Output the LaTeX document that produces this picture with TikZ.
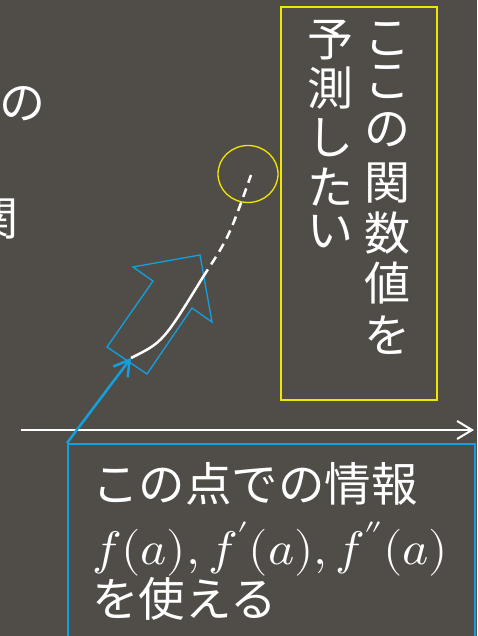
\documentclass[tikz,border=0pt]{standalone}
\usepackage{fontspec}
\usepackage{unicode-math}
\newfontfamily\jp{Noto Sans CJK JP}
\usetikzlibrary{arrows.meta,shapes.geometric}
\definecolor{bg}{RGB}{80,77,73}
\definecolor{ylw}{RGB}{240,230,0}
\definecolor{blu}{RGB}{18,160,222}
\tikzset{
  jpchar/.style={text=white, inner sep=0pt, font=\jp\fontsize{46}{50}\selectfont},
  jpline/.style={text=white, inner sep=0pt, anchor=west, font=\jp\fontsize{46.5}{50}\selectfont},
  mathline/.style={text=white, inner sep=0pt, anchor=west, font=\fontsize{47}{50}\selectfont},
  ybox/.style={draw=ylw, line width=1.8pt, inner sep=0pt, anchor=north west},
  bbox/.style={draw=blu, line width=1.8pt, inner sep=0pt, anchor=north west},
  curve/.style={white, line width=2.5pt},
  barb/.style={-{Straight Barb[length=15pt,width=18pt]}},
}
\begin{document}
\begin{tikzpicture}[x=1pt,y=-1pt]
\useasboundingbox (0,0) rectangle (477,636);
\clip (0,0) rectangle (477,636);
\fill[bg] (0,0) rectangle (477,636);

% text cut off at the left edge, as in the reference
\node[jpchar] (lno) at (22,104) {の};
\node[jpchar] (lkan) at (-4,219) {関};

% yellow box with vertical text
\node[ybox, minimum width=156pt, minimum height=393pt] (ybx) at (280,6) {};
\foreach \c/\y [count=\i] in {こ/39,こ/82,の/130,関/183,数/233,値/283,を/335}
  \node[jpchar] (r\i) at (387,\y) {\c};
\foreach \c/\y [count=\i] in {予/40,測/88,し/138,た/187,い/232}
  \node[jpchar] (l\i) at (330,\y) {\c};

% target circle
\node[draw=ylw, line width=1.3pt, ellipse, minimum width=60pt, minimum height=57pt, inner sep=0pt] (tgt) at (248,174) {};

% big blue block arrow
\draw[blu, line width=1.3pt, line join=miter]
  (200,255) -- (133,267) -- (153,281) -- (107,347) -- (147,374)
  -- (192,308) -- (212,322) -- cycle;

% curve
\coordinate (A) at (131,358);
\coordinate (B) at (203,277);
\coordinate (C) at (251,175);
\draw[curve] (A) .. controls (163,342) .. (B);
\draw[curve, dash pattern=on 9pt off 6pt] (B) .. controls (229,237) .. (C);

% axis
\coordinate (ax0) at (21,430);
\coordinate (ax1) at (474,430);
\draw[white, line width=2pt, barb] (ax0) -- (ax1);

% blue info box
\node[bbox, minimum width=407pt, minimum height=220pt] (ibx) at (67,443) {};
\draw[blu, line width=2.5pt, barb] (ibx.north west) -- (A);

\node[jpline] (t1) at (92,484) {この点での情報};
\node[mathline] (t2) at (92,549) {\scalebox{1.06}[1]{$f(a),f'(a),f''(a)$}};
\node[jpline] (t3) at (92,599) {を使える};
\end{tikzpicture}
\end{document}
